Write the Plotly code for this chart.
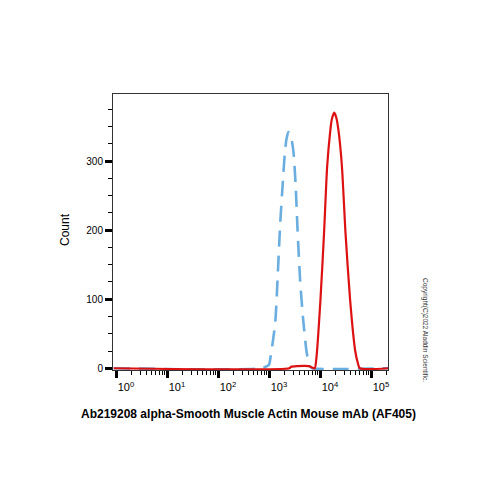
import plotly.graph_objects as go

# Isotype / control (blue dashed) histogram
ctrl_x = [0.9, 700, 1000, 1050, 1320, 1510, 1660, 1860, 2040, 2200, 2400, 2700, 3020, 3310, 3630, 4070, 4680, 5500, 6300, 7000, 215000]
ctrl_y = [0, 0, 5, 12, 65, 147, 210, 268, 311, 332, 342, 335, 313, 268, 200, 128, 70, 22, 3, 0, 0]

# Stained sample (red solid) histogram
samp_x = [0.9, 2500, 2700, 3500, 6000, 7000, 7900, 8500, 10200, 12000, 13800, 15700, 17000, 19000, 21000, 23400, 26900, 31600, 38900, 49000, 55000, 60300, 215000]
samp_y = [0, 0, 2, 3, 3, 1, 0, 15, 99, 196, 292, 340, 360, 370, 362, 340, 292, 196, 99, 25, 8, 0, 0]

x_tickvals = [1, 10, 100, 1000, 10000, 100000]
x_ticktext = ["10<sup>0</sup>", "10<sup>1</sup>", "10<sup>2</sup>", "10<sup>3</sup>", "10<sup>4</sup>", "10<sup>5</sup>"]
x_minor = [m * d for d in [1, 10, 100, 1000, 10000] for m in range(2, 10)] + [200000]
y_tickvals = [0, 100, 200, 300]
y_minor = [25, 50, 75, 125, 150, 175, 225, 250, 275, 325, 350, 375]

x_title = "Ab219208 alpha-Smooth Muscle Actin Mouse mAb (AF405)"
y_title = "Count"
copyright_text = "Copyright(C)2022 Aladdin Scientific."

fig = go.Figure()
fig.add_trace(go.Scatter(x=ctrl_x, y=ctrl_y, mode="lines",
                         line=dict(color="#6aaee0", width=2.6, dash="16px,9px", shape="spline", smoothing=0.6),
                         hoverinfo="skip", showlegend=False))
fig.add_trace(go.Scatter(x=samp_x, y=samp_y, mode="lines",
                         line=dict(color="#dd1111", width=2.2, shape="spline", smoothing=0.6),
                         hoverinfo="skip", showlegend=False))

font_family = "Liberation Sans, Arial, sans-serif"

ML, MR, MT, MB = 113, 112, 94, 130
fig.update_layout(
    width=500, height=500,
    margin=dict(l=ML, r=MR, t=MT, b=MB),
    paper_bgcolor="white", plot_bgcolor="white",
    font=dict(family=font_family, color="black", size=11),
    showlegend=False,
)
fig.update_xaxes(
    type="log", range=[-0.059, 5.333],
    tickvals=x_tickvals, ticktext=x_ticktext,
    ticks="outside", ticklen=7, tickwidth=2.5, tickcolor="black",
    minor=dict(ticks="outside", ticklen=4, tickwidth=1, tickcolor="black", tickvals=x_minor),
    showline=True, linecolor="#333", linewidth=1, mirror=True,
    showgrid=False, zeroline=False,
    tickfont=dict(size=11, family=font_family),
    ticklabelshift=10,
)
fig.update_yaxes(
    range=[-2.5, 397],
    tickvals=y_tickvals,
    ticks="outside", ticklen=7, tickwidth=2.5, tickcolor="black",
    minor=dict(ticks="outside", ticklen=4, tickwidth=1, tickcolor="black", tickvals=y_minor),
    showline=True, linecolor="#333", linewidth=1, mirror=True,
    showgrid=False, zeroline=False,
    tickfont=dict(size=10, family=font_family),
)

pw, ph = 500 - ML - MR, 500 - MT - MB
def px2paper(px, py):
    return (px - ML) / pw, (500 - MB - py) / ph

for text, (px, py), angle, fnt in [
    (y_title, (65, 230), -90, dict(size=12, family=font_family)),
    ("<b>" + x_title + "</b>", (248, 414), 0, dict(size=12, family=font_family)),
    (copyright_text, (425, 330), 90, dict(size=6.5, family=font_family, color="#333")),
]:
    xx, yy = px2paper(px, py)
    fig.add_annotation(text=text, x=xx, y=yy, xref="paper", yref="paper",
                       xanchor="center", yanchor="middle", showarrow=False,
                       textangle=angle, font=fnt)

fig.write_html("out.html")
